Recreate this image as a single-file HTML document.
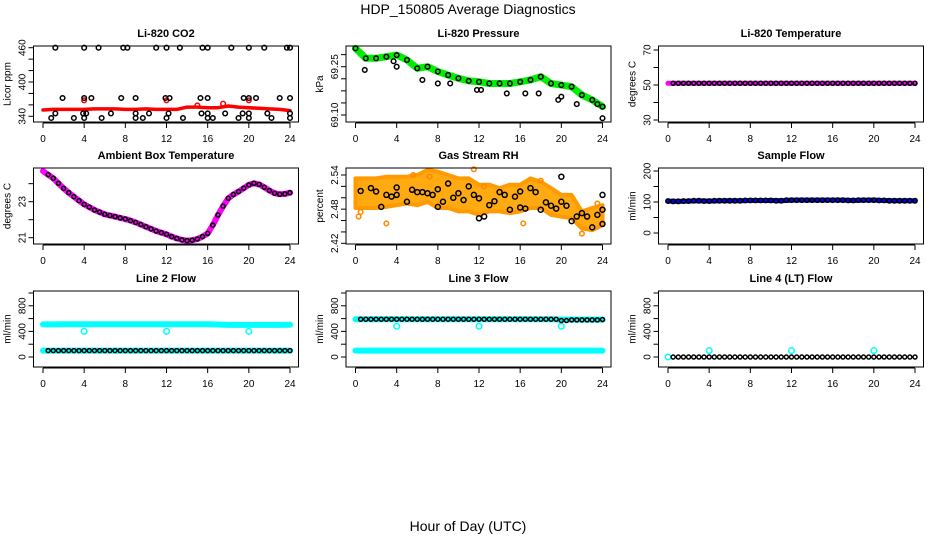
<!DOCTYPE html>
<html><head><meta charset="utf-8">
<style>
html,body{margin:0;padding:0;background:#fff;}
svg{display:block;font-family:"Liberation Sans",Arial,sans-serif;}
</style></head>
<body>
<svg id="c" width="936" height="540" viewBox="0 0 936 540" xmlns="http://www.w3.org/2000/svg">
<text x="468" y="14" font-size="14" text-anchor="middle">HDP_150805  Average Diagnostics</text>
<text x="468" y="531" font-size="14" text-anchor="middle">Hour of Day (UTC)</text>
</svg>
<script>
// ---------- data ----------
const hours = [0,0.5,1,1.5,2,2.5,3,3.5,4,4.5,5,5.5,6,6.5,7,7.5,8,8.5,9,9.5,10,10.5,11,11.5,12,12.5,13,13.5,14,14.5,15,15.5,16,16.5,17,17.5,18,18.5,19,19.5,20,20.5,21,21.5,22,22.5,23,23.5,24];
const hourly = [0,1,2,3,4,5,6,7,8,9,10,11,12,13,14,15,16,17,18,19,20,21,22,23,24];
const xTicks = [0,4,8,12,16,20,24];

const co2Red = [351,352,352,352,352,353,353,353,352,352,353,352,352,352,356,356,355,355,358,356,355,354,353,352,350];
const co2RedOutX = [4,12,20,17.5,15];
const co2RedOutY = [368,368,368,362,359];
const co2BlackX = [1.2,4,5.4,7.8,8.2,11,12,13.3,15.5,16,18.3,20,21.5,23.7,24, 1.9,4,4.7,7.6,9,11.9,12.3,15.3,16,19.5,20,20.7,23,24, 1.2,3.9,4.2,6.6,9,10.3,12.2,15.4,16,17.7,19.4,20,21.8,24, 0.8,3,4,5.7,9,9.7,12,13.6,16,16.5,19,20,22.2,24];
const co2BlackY = [460,460,460,460,460,460,460,460,460,460,460,460,460,460,460, 372,372,372,372,372,372,372,372,372,372,372,372,372,372, 345,345,345,345,345,345,345,345,345,345,345,345,345,345, 337,337,337,337,337,337,337,337,337,337,337,337,337,337];

const pres = [69.307,69.276,69.276,69.281,69.286,69.271,69.245,69.250,69.235,69.224,69.214,69.206,69.203,69.198,69.198,69.198,69.203,69.209,69.219,69.198,69.193,69.188,69.162,69.147,69.126];
const presOutX = [0.9,3.7,4,6.5,8,9.2,11.8,12.2,14.7,16.5,17.8,19.7,20,21.5,23.5,24];
const presOutY = [69.240,69.267,69.250,69.209,69.198,69.198,69.178,69.178,69.167,69.167,69.167,69.147,69.157,69.134,69.134,69.090];

const liTemp = [51,51,51,51,51,51,51,51,51,51,51,51,51,51,51,51,51,51,51,51,51,51,51,51,51,51,51,51,51,51,51,51,51,51,51,51,51,51,51,51,51,51,51,51,51,51,51,51,51];

const ambT = [24.70,24.50,24.30,24.02,23.74,23.50,23.28,23.06,22.85,22.70,22.54,22.42,22.30,22.23,22.17,22.10,22.04,21.95,21.85,21.73,21.61,21.49,21.37,21.28,21.19,21.06,20.96,20.88,20.84,20.86,20.93,21.06,21.24,21.70,22.26,22.75,23.19,23.40,23.56,23.75,23.93,24.02,23.96,23.80,23.62,23.47,23.41,23.43,23.50];

const rhTop = [2.534,2.534,2.534,2.537,2.537,2.537,2.540,2.549,2.546,2.540,2.534,2.534,2.523,2.523,2.517,2.523,2.523,2.534,2.528,2.517,2.505,2.505,2.476,2.482,2.487];
const rhBot = [2.482,2.482,2.482,2.484,2.487,2.490,2.487,2.493,2.482,2.482,2.476,2.476,2.470,2.476,2.476,2.473,2.476,2.482,2.482,2.470,2.467,2.464,2.446,2.443,2.452];
const rhOutX = [0.3,0.5,3,7.2,11.5,18,22,23.5,12.5,5.6,16.3];
const rhOutY = [2.467,2.475,2.455,2.537,2.550,2.530,2.437,2.490,2.520,2.540,2.455];
const rhBlackX = [0.5,1.5,2,2.5,3,3.5,4,4,5,5.5,6,6.5,7,7.5,8,8,8.5,9,9.5,10,10.5,11,11.5,12,12,12.5,13,13.5,14,14.5,15,15.5,16,16,16.5,17,17.5,18,18.5,19,19.5,20,20,20.5,21,21.5,22,22.5,23,23.5,24,24,24];
const rhBlackY = [2.512,2.517,2.511,2.484,2.505,2.502,2.505,2.518,2.493,2.514,2.510,2.510,2.508,2.505,2.484,2.515,2.493,2.525,2.500,2.508,2.496,2.520,2.505,2.499,2.464,2.467,2.487,2.494,2.510,2.505,2.479,2.502,2.511,2.483,2.481,2.517,2.510,2.479,2.492,2.486,2.481,2.537,2.493,2.486,2.459,2.467,2.473,2.467,2.448,2.470,2.505,2.479,2.454];

const sampFlow = [103,102,103,104,103,104,104,104,105,105,105,104,106,106,106,106,106,106,105,106,106,105,104,104,104];

const l2High = [510,510,512,512,512,512,512,512,512,512,512,512,512,512,512,512,512,508,502,502,502,502,502,502,505];
const l2Low = [100,100,100,100,100,100,100,100,100,100,100,100,100,100,100,100,100,100,100,100,100,100,100,100,100];
const l2Black = [100,100,100,100,100,100,100,100,100,100,100,100,100,100,100,100,100,100,100,100,100,100,100,100,100,100,100,100,100,100,100,100,100,100,100,100,100,100,100,100,100,100,100,100,100,100,100,100,100];
const l2OutX = [4,12,20];
const l2OutY = [400,400,400];

const l3High = [590,590,590,590,590,590,590,590,590,590,590,590,590,590,590,590,590,590,590,590,585,585,585,585,585];
const l3Low = [100,100,100,100,100,100,100,100,100,100,100,100,100,100,100,100,100,100,100,100,100,100,100,100,100];
const l3Black = [590,590,590,590,590,590,590,590,590,590,590,590,590,590,590,590,590,590,590,590,590,590,590,590,590,590,590,590,590,590,590,590,590,590,590,590,590,590,590,590,570,570,580,580,580,580,580,580,585];
const l3OutX = [4,12,20];
const l3OutY = [480,480,480];

const l4Black = [0,0,0,0,0,0,0,0,0,0,0,0,0,0,0,0,0,0,0,0,0,0,0,0,0,0,0,0,0,0,0,0,0,0,0,0,0,0,0,0,0,0,0,0,0,0,0,0,0];
const l4OutX = [0,4,12,20];
const l4OutY = [0,100,100,100];

// ---------- drawing ----------
const svg = document.getElementById('c');
const NS = 'http://www.w3.org/2000/svg';
function mk(tag, attrs, parent){
  const e = document.createElementNS(NS, tag);
  for (const k in attrs) e.setAttribute(k, attrs[k]);
  (parent||svg).appendChild(e);
  return e;
}
const colL = [33.5, 346, 658.5];
const rowT = [46, 168, 291];
const W = 265, H = 76;

function panel(ci, ri, name, title, ylab, ylo, yhi, ticks, labels){
  const g = mk('g', {});
  
  
  const L = colL[ci], T = rowT[ri], B = T + H;
  const xs = h => L + 9.5 + h * (247 / 24);
  const ys = v => B - (v - ylo) / (yhi - ylo) * H;
  const t = mk('text', {x: L + W/2, y: T - 9, 'font-size': 11, 'font-weight': 'bold', 'text-anchor': 'middle'}, g);
  t.textContent = title;
  
  
  const yl = mk('text', {x: 0, y: 0, 'font-size': 10, 'text-anchor': 'middle', transform: `translate(${L-23},${T+H/2}) rotate(-90)`}, g);
  yl.textContent = ylab;
  
  
  const yg = mk('g', {stroke: '#000', 'stroke-width': 1}, g);
  
  
  ticks.forEach((v, i) => {
    const y = ys(v);
    mk('line', {x1: L - 5, x2: L, y1: y, y2: y}, yg);
    if (labels[i] !== '') {
      const tl = mk('text', {x: 0, y: 0, 'font-size': 10, 'text-anchor': 'middle', stroke: 'none', transform: `translate(${L-8},${y}) rotate(-90)`}, g);
      tl.textContent = labels[i];
      
      
    }
  });
  mk('line', {x1: L, x2: L, y1: ys(ticks[0]), y2: ys(ticks[ticks.length-1])}, yg);
  const xg = mk('g', {stroke: '#000', 'stroke-width': 1}, g);
  
  
  mk('line', {x1: xs(0), x2: xs(24), y1: B + 1, y2: B + 1}, xg);
  xTicks.forEach(h => {
    mk('line', {x1: xs(h), x2: xs(h), y1: B + 1, y2: B + 6}, xg);
    const tl = mk('text', {x: xs(h), y: B + 20, 'font-size': 10, 'text-anchor': 'middle'}, g);
    tl.textContent = h;
    
    
  });
  const plot = mk('g', {}, g);
  
  
  const box = mk('rect', {x: L, y: T, width: W, height: H, fill: 'none', stroke: '#000', 'stroke-width': 1}, g);
  
  
  return {xs, ys, plot};
}
function band(p, xsArr, vals, color, w, name){
  const pts = xsArr.map((h, i) => p.xs(h).toFixed(1) + ',' + p.ys(vals[i]).toFixed(1)).join(' ');
  const e = mk('polyline', {points: pts, fill: 'none', stroke: color, 'stroke-width': w, 'stroke-linejoin': 'round', 'stroke-linecap': 'round'}, p.plot);
  
  
}
function pts(p, xsArr, vals, color, name, r){
  const g = mk('g', {fill: 'none', stroke: color, 'stroke-width': 1.5}, p.plot);
  
  
  xsArr.forEach((h, i) => {
    const c = mk('circle', {cx: p.xs(h), cy: p.ys(vals[i]), r: r || 2.3}, g);
    
    
  });
}

let p = panel(0, 0, 'panel-co2', 'Li-820 CO2', 'Licor ppm', 330, 463, [340,360,380,400,420,440,460], ['340','','','400','','','460']);
band(p, hourly, co2Red, '#ff0000', 3.5, 'co2-red-series');
pts(p, co2RedOutX, co2RedOutY, '#ff0000', 'co2-red-outliers');
pts(p, co2BlackX, co2BlackY, '#000', 'co2-black-points');

p = panel(1, 0, 'panel-pressure', 'Li-820 Pressure', 'kPa', 69.0783, 69.3143, [69.10,69.1375,69.175,69.2125,69.25,69.2875], ['69.10','','','','69.25','']);
band(p, hourly, pres, '#00ee00', 7, 'pressure-green-series');
pts(p, hourly, pres, '#000', 'pressure-black-points');
pts(p, presOutX, presOutY, '#000', 'pressure-black-outliers');

p = panel(2, 0, 'panel-li-temp', 'Li-820 Temperature', 'degrees C', 28.86, 72.29, [30,40,50,60,70], ['30','','50','','70']);
band(p, hours, liTemp, '#ff00ff', 5, 'li-temp-magenta-series');
pts(p, hours.slice(1), liTemp.slice(1), '#000', 'li-temp-black-points', 2);

p = panel(0, 1, 'panel-ambient-temp', 'Ambient Box Temperature', 'degrees C', 20.65, 24.87, [21,22,23,24], ['21','','23','']);
band(p, hours, ambT, '#ff00ff', 6, 'ambient-magenta-series');
pts(p, hours.slice(1), ambT.slice(1), '#000', 'ambient-black-points', 2);

p = panel(1, 1, 'panel-rh', 'Gas Stream RH', 'percent', 2.4188, 2.5523, [2.42,2.44,2.46,2.48,2.50,2.52,2.54], ['2.42','','','2.48','','','2.54']);
{
  const top = hourly.map((h, i) => p.xs(h).toFixed(1) + ',' + p.ys(rhTop[i]).toFixed(1));
  const bot = hourly.map((h, i) => p.xs(h).toFixed(1) + ',' + p.ys(rhBot[i]).toFixed(1)).reverse();
  const e = mk('polygon', {points: top.concat(bot).join(' '), fill: '#ffaa10', stroke: '#ff9a00', 'stroke-width': 4, 'stroke-linejoin': 'round'}, p.plot);
  
  
}
pts(p, rhOutX, rhOutY, '#ff8800', 'rh-orange-outliers');
pts(p, rhBlackX, rhBlackY, '#000', 'rh-black-points', 2.5);

p = panel(2, 1, 'panel-sample-flow', 'Sample Flow', 'ml/min', -35.5, 209.7, [0,50,100,150,200], ['0','','100','','200']);
band(p, hourly, sampFlow, '#0000ff', 5, 'sample-flow-blue-series');
pts(p, hourly, sampFlow, '#000', 'sample-flow-black-points', 2.2);
pts(p, hourly.slice(0,24).map(h => h + 0.5), sampFlow.slice(1), '#000', 'sample-flow-black-points-2', 2.2);

p = panel(0, 2, 'panel-line2-flow', 'Line 2 Flow', 'ml/min', -156, 1031, [0,200,400,600,800,1000], ['0','','400','','800','']);
band(p, hourly, l2High, '#00ffff', 6, 'line2-cyan-high');
band(p, hourly, l2Low, '#00ffff', 6, 'line2-cyan-low');
pts(p, l2OutX, l2OutY, '#00ffff', 'line2-cyan-outliers', 2.8);
pts(p, hours.slice(1), l2Black.slice(1), '#000', 'line2-black-points', 2);

p = panel(1, 2, 'panel-line3-flow', 'Line 3 Flow', 'ml/min', -156, 1031, [0,200,400,600,800,1000], ['0','','400','','800','']);
band(p, hourly, l3High, '#00ffff', 6, 'line3-cyan-high');
band(p, hourly, l3Low, '#00ffff', 6, 'line3-cyan-low');
pts(p, l3OutX, l3OutY, '#00ffff', 'line3-cyan-outliers', 2.8);
pts(p, hours.slice(1), l3Black.slice(1), '#000', 'line3-black-points', 2);

p = panel(2, 2, 'panel-line4-flow', 'Line 4 (LT) Flow', 'ml/min', -156, 1031, [0,200,400,600,800,1000], ['0','','400','','800','']);
pts(p, l4OutX, l4OutY, '#00ffff', 'line4-cyan-points', 2.8);
pts(p, hours.slice(1), l4Black.slice(1), '#000', 'line4-black-points', 2);
</script>
</body></html>
